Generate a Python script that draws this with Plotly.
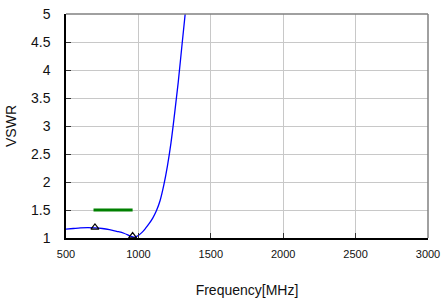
import plotly.graph_objects as go

freq = [500, 550, 600, 650, 700, 750, 800, 850, 900, 950, 975, 1000, 1025, 1050,
        1075, 1100, 1125, 1150, 1175, 1200, 1225, 1250, 1275, 1300, 1325]
vswr = [1.16, 1.17, 1.18, 1.185, 1.18, 1.17, 1.15, 1.12, 1.085, 1.03, 1.015, 1.045,
        1.10, 1.175, 1.26, 1.36, 1.49, 1.67, 1.94, 2.28, 2.70, 3.22, 3.78, 4.42, 5.05]

spec_freq = [690, 960]
spec_vswr = [1.5, 1.5]

mark_freq = [700, 960]
mark_vswr = [1.19, 1.035]

xticks = [500, 1000, 1500, 2000, 2500, 3000]
yticks = [1, 1.5, 2, 2.5, 3, 3.5, 4, 4.5, 5]

fig = go.Figure()
fig.add_trace(go.Scatter(x=freq, y=vswr, mode="lines",
                         line=dict(color="#0000ff", width=1.3, shape="spline", smoothing=1),
                         hoverinfo="skip"))
fig.add_trace(go.Scatter(x=spec_freq, y=spec_vswr, mode="lines",
                         line=dict(color="#008000", width=3)))
fig.add_trace(go.Scatter(x=mark_freq, y=mark_vswr, mode="markers",
                         marker=dict(symbol="triangle-up-open", size=7,
                                     color="black", line=dict(width=1.2))))

font = "Liberation Sans, Arial, sans-serif"
fig.update_layout(
    width=443, height=303,
    margin=dict(l=66, r=15, t=14, b=65),
    paper_bgcolor="white", plot_bgcolor="white",
    showlegend=False,
    font=dict(family=font, color="#111"),
    xaxis=dict(range=[500, 3000], tickvals=xticks,
               ticktext=[str(v) for v in xticks],
               tickfont=dict(size=11, family=font),
               showgrid=True, gridcolor="#c8c8c8", gridwidth=1,
               showline=True, linecolor="black", linewidth=1.5,
               ticks="inside", ticklen=5, tickcolor="#333",
               zeroline=False, ticklabelstandoff=5, automargin=False,
               ticklabeloverflow="allow",
               title=dict(text="Frequency[MHz]", font=dict(size=14, family=font),
                          standoff=26)),
    yaxis=dict(range=[1, 5], tickvals=yticks,
               ticktext=[("%g" % v) for v in yticks],
               tickfont=dict(size=14, family=font),
               showgrid=True, gridcolor="#c8c8c8", gridwidth=1,
               showline=True, linecolor="black", linewidth=1.5,
               ticks="inside", ticklen=5, tickcolor="#333",
               zeroline=False, ticklabelstandoff=11, automargin=False,
               ticklabeloverflow="allow",
               title=dict(text="VSWR", font=dict(size=14, family=font),
                          standoff=11)),
    shapes=[
        dict(type="line", xref="paper", yref="paper", x0=0, x1=1, y0=1, y1=1,
             line=dict(color="#808080", width=1.5)),
        dict(type="line", xref="paper", yref="paper", x0=1, x1=1, y0=0, y1=1,
             line=dict(color="#808080", width=1.5)),
    ],
)

fig.write_html("out.html", config={"displayModeBar": False},
               post_script="document.body.style.margin='0';document.body.style.overflow='hidden';")
